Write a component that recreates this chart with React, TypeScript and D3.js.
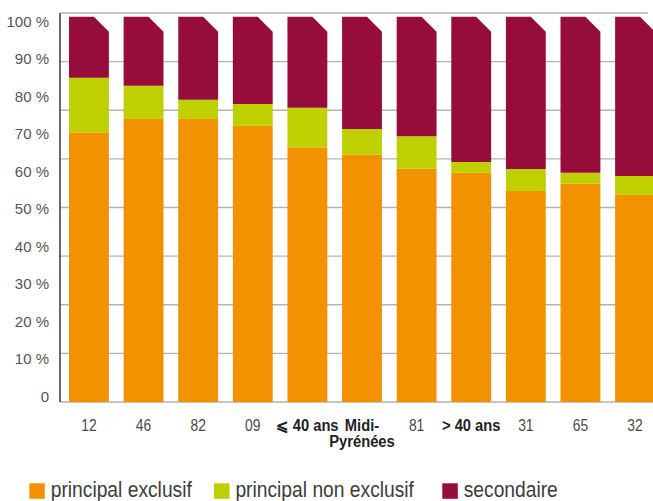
import React from "react";
import * as d3 from "d3";

const categories = ["12", "46", "82", "09", "⩽ 40 ans", "Midi-Pyrénées", "81", "> 40 ans", "31", "65", "32"];
const boldCats = ["⩽ 40 ans", "Midi-Pyrénées", "> 40 ans"];
const principalExclusif = [70.0, 73.5, 73.5, 71.7, 66.1, 64.2, 60.6, 59.5, 54.8, 56.7, 53.8];
const principalNonExclusif = [14.2, 8.6, 5.0, 5.7, 10.3, 6.7, 8.4, 2.8, 5.7, 2.8, 4.9];
const secondaire = [15.8, 17.9, 21.5, 22.6, 23.6, 29.1, 31.0, 37.7, 39.5, 40.5, 41.3];
const seriesNames = ["principal exclusif", "principal non exclusif", "secondaire"];
const seriesColors = ["#F39200", "#BED000", "#960C3A"];
const yTickLabels = [0, 10, 20, 30, 40, 50, 60, 70, 80, 90, 100];

const W = 653;
const H = 501;
const X0 = 60;
const Y0 = 402;
const YTOP = 13;
const CUT = 15;

export default function App() {
  const x = d3.scaleBand<string>().domain(categories).range([X0, 664]).paddingInner(0.27).paddingOuter(0.165);
  const y = d3.scaleLinear().domain([0, 101]).range([Y0, YTOP]);
  const yLabel = d3.scaleLinear().domain([0, 100]).range([402, 26.7]);
  const grid = d3.range(1, 9).map((k) => (101 * k) / 8);

  const rows = categories.map((c, i) => ({
    cat: c,
    a: principalExclusif[i],
    b: principalNonExclusif[i],
    c: secondaire[i],
  }));
  const stack = d3.stack<any>().keys(["a", "b", "c"])(rows);

  const legendX = [29.3, 214, 442.3];

  return (
    <svg width={W} height={H} style={{ position: "absolute", left: 0, top: 0, background: "#fff" }}
      fontFamily="'Liberation Sans', Arial, sans-serif">
      {grid.map((g, i) => (
        <line key={i} x1={X0} x2={i === 7 ? 648 : 653} y1={y(g)} y2={y(g)} stroke="#b3b3b3" strokeWidth={1.4} />
      ))}
      <line x1={X0} x2={653} y1={Y0} y2={Y0} stroke="#b3b3b3" strokeWidth={1.4} />
      {stack.map((layer, li) =>
        layer.map((d, i) => {
          const x0 = x(categories[i])!;
          const x1 = x0 + x.bandwidth();
          const yb = y(d[0]);
          const yt = y(d[1]);
          if (li === 2) {
            const p = d3.path();
            p.moveTo(x0, yb);
            p.lineTo(x0, yt);
            p.lineTo(x1 - CUT, yt);
            p.lineTo(x1, yt + CUT);
            p.lineTo(x1, yb);
            p.closePath();
            return <path key={`${li}-${i}`} d={p.toString()} fill={seriesColors[li]} />;
          }
          return <rect key={`${li}-${i}`} x={x0} y={yt} width={x.bandwidth()} height={yb - yt} fill={seriesColors[li]} />;
        })
      )}
      <line x1={X0} x2={X0} y1={YTOP} y2={Y0} stroke="#1a1a1a" strokeWidth={1.3} />
      {yTickLabels.map((v) => (
        <text key={v} x={49} y={yLabel(v)} textAnchor="end" fontSize={15} fill="#555">
          {v === 0 ? "0" : `${v} %`}
        </text>
      ))}
      {categories.map((c) => {
        const cx = x(c)! + x.bandwidth() / 2;
        const bold = boldCats.includes(c);
        if (c === "Midi-Pyrénées") {
          return (
            <text key={c} transform={`translate(${cx},430.5) scale(0.92,1)`} textAnchor="middle" fontSize={16}
              fontWeight="bold" fill="#222">
              <tspan x={0} y={0}>Midi-</tspan>
              <tspan x={0} y={16.5}>Pyrénées</tspan>
            </text>
          );
        }
        return (
          <text key={c} transform={`translate(${cx},430.5) scale(${bold ? 0.92 : 0.84},1)`} textAnchor="middle"
            fontSize={bold ? 16 : 16.5} fontWeight={bold ? "bold" : "normal"} fill={bold ? "#222" : "#4a4a4a"}>
            {c}
          </text>
        );
      })}
      {seriesNames.map((s, i) => (
        <g key={s}>
          <rect x={legendX[i]} y={483.3} width={15.5} height={15.5} fill={seriesColors[i]} />
          <text transform={`translate(${legendX[i] + 21.4},496.7) scale(0.875,1)`} fontSize={22} fill="#3c3c3c">
            {s}
          </text>
        </g>
      ))}
    </svg>
  );
}
